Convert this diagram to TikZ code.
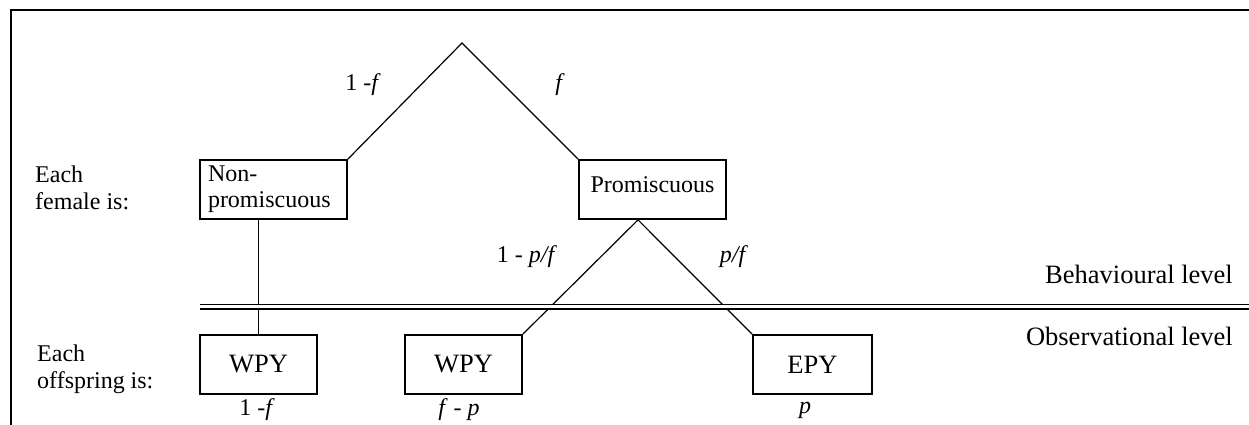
\documentclass[tikz,border=0pt]{standalone}
\usepackage{fontspec}
\setmainfont{Liberation Serif}
\begin{document}
\begin{tikzpicture}[x=1pt,y=-1pt,
  box/.style={draw, line width=1.8pt, rectangle, minimum height=59pt, inner sep=0pt, font=\fontsize{26.5}{28}\selectfont},
  lbl/.style={font=\fontsize{24}{27}\selectfont, inner sep=0pt},
  big/.style={font=\fontsize{26.5}{28}\selectfont, inner sep=0pt},
  conn/.style={line width=1.2pt},
]
\useasboundingbox (0,0) rectangle (1249,425);
% frame
\coordinate (tl) at (10.5,10.5);
\coordinate (tr) at (1249,10.5);
\coordinate (bl) at (10.5,425);
\draw[line width=2pt] (tr) -- (tl) -- (bl);
% boxes
\node[box, minimum width=147pt, text width=131pt, align=left, inner xsep=8pt, font=\fontsize{24}{26}\selectfont] (np) at (273.5,189.5) {Non-\\promiscuous};
\node[box, minimum width=147pt, text depth=9pt, font=\fontsize{24}{26}\selectfont] (pr) at (652.5,189.5) {Promiscuous};
\node[box, minimum width=117pt] (w1) at (258.5,364.5) {WPY};
\node[box, minimum width=117pt] (w2) at (463.5,364.5) {WPY};
\node[box, minimum width=119pt] (ep) at (812.5,364.5) {EPY};
% connectors
\coordinate (apex) at (462,43);
\coordinate (pb) at ([xshift=-14.5pt]pr.south);
\draw[conn] (np.north east) -- (apex) -- (pr.north west);
\draw[line width=1.8pt] (w1.north |- np.south) -- (w1.north);
\draw[conn] (pb) -- (w2.north east);
\draw[conn] (pb) -- (ep.north west);
% level separator
\coordinate (dl) at (200,306.5);
\coordinate (dr) at (1249,306.5);
\draw[line width=1.5pt, double, double distance=3pt] (dl) -- (dr);
% probabilities
\node[lbl] (l1) at (363,85) {1 -\textit{f}};
\node[lbl] (l2) at (560,85) {\textit{f}};
\node[lbl] (l3) at (527,257) {1 - \textit{p/f}};
\node[lbl] (l4) at (734,257) {\textit{p/f}};
\node[lbl] (l5) at (257,410) {1 -\textit{f}};
\node[lbl] (l6) at (459,410) {\textit{f} - \textit{p}};
\node[lbl] (l7) at (805,410) {\textit{p}};
% side labels
\node[lbl, align=left, anchor=north west] (fe) at (35,166) {Each\\female is:};
\node[lbl, align=left, anchor=north west] (of) at (37,345) {Each\\offspring is:};
\node[big, anchor=base east] (beh) at (1233,283) {Behavioural level};
\node[big, anchor=base east] (obs) at (1233,345) {Observational level};
\end{tikzpicture}
\end{document}
